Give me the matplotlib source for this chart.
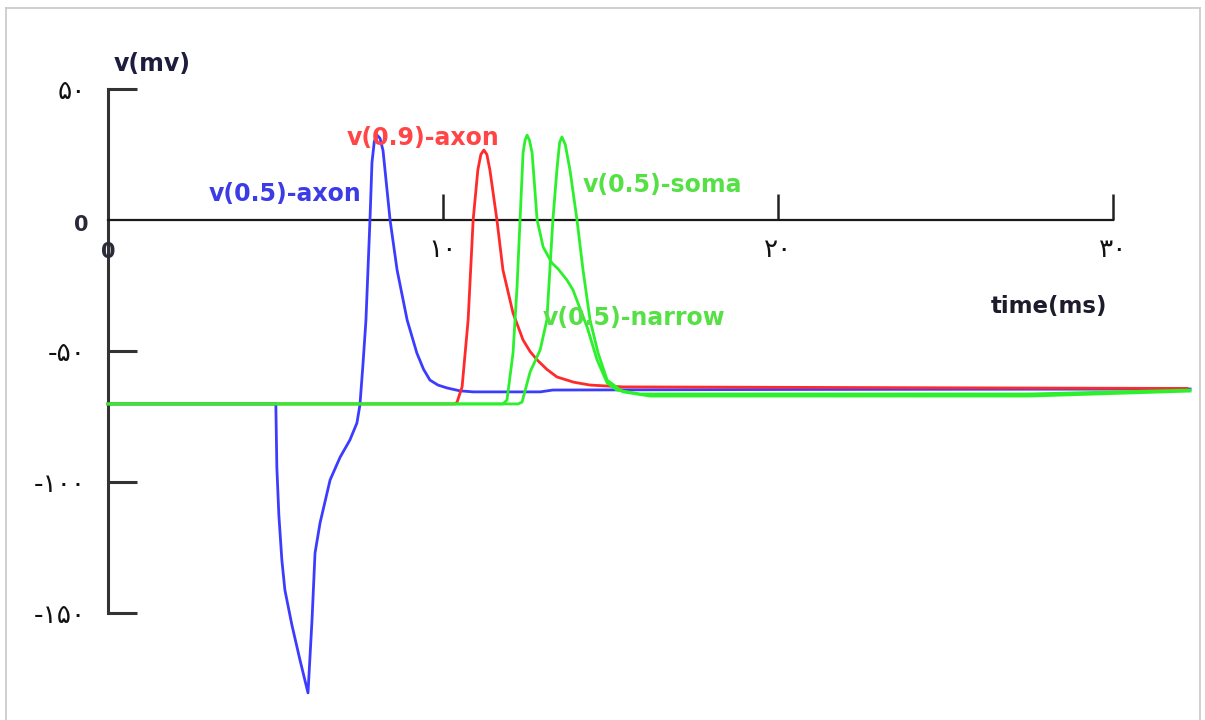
import matplotlib
matplotlib.use("Agg")
import matplotlib.pyplot as plt
from matplotlib.lines import Line2D

# Membrane potential traces (time in ms, voltage in mV)
axon05_t = [0.0, 5.01, 5.04, 5.10, 5.19, 5.28, 5.49, 5.73, 5.97, 6.09, 6.18, 6.33,
            6.63, 6.93, 7.22, 7.43, 7.52, 7.61, 7.70, 7.82, 7.88, 7.95, 8.03, 8.12,
            8.21, 8.42, 8.63, 8.93, 9.22, 9.42, 9.61, 9.85, 10.12, 10.50, 10.90,
            12.90, 13.28, 19.76, 32.3]
axon05_v = [-70.2, -70.2, -94.3, -112.6, -129.8, -141.2, -154.6, -167.9, -180.5, -152.7,
            -127.1, -115.6, -99.2, -90.5, -84.0, -77.5, -70.6, -55.3, -38.2, 0.0, 22.0,
            30.0, 32.4, 31.2, 26.5, 0.0, -19.1, -38.2, -50.8, -57.0, -61.1, -63.0,
            -64.1, -65.2, -65.6, -65.6, -64.9, -64.7, -64.5]

axon09_t = [0.0, 10.36, 10.42, 10.57, 10.75, 10.90, 11.04, 11.13, 11.22, 11.31, 11.40,
            11.61, 11.79, 12.09, 12.39, 12.60, 12.81, 13.10, 13.40, 13.90, 14.39, 15.37,
            32.21]
axon09_v = [-70.2, -70.2, -69.5, -63.7, -38.2, 0.0, 19.1, 25.0, 26.7, 25.0, 19.1,
            0.0, -19.1, -35.5, -45.8, -50.2, -53.4, -57.0, -59.9, -61.9, -63.0, -63.7,
            -64.3]

soma_t = [0.0, 11.79, 11.91, 12.09, 12.21, 12.30, 12.39, 12.45, 12.51, 12.58, 12.66,
          12.81, 12.99, 13.25, 13.43, 13.70, 13.88, 14.30, 14.60, 14.90, 15.19, 15.88,
          27.52, 32.3]
soma_v = [-70.2, -70.2, -68.7, -50.8, -25.6, 0.0, 25.6, 30.5, 32.4, 30.5, 25.6,
          0.0, -10.3, -16.4, -18.6, -22.9, -26.7, -40.8, -53.4, -62.2, -64.9, -66.4,
          -66.4, -64.9]

narrow_t = [0.0, 12.24, 12.36, 12.60, 12.90, 13.10, 13.28, 13.40, 13.48, 13.55, 13.65,
            13.79, 14.00, 14.18, 14.39, 14.63, 14.90, 15.37, 16.18, 27.52, 32.3]
narrow_v = [-70.2, -70.2, -69.5, -58.0, -49.6, -38.2, 0.0, 19.1, 29.5, 31.7, 28.8,
            19.1, 0.0, -19.1, -38.2, -50.8, -61.1, -65.6, -67.2, -67.2, -65.3]

x_ticks = [10, 20, 30]
x_tick_labels = ["۱۰", "۲۰", "۳۰"]
y_ticks = [50, -50, -100, -150]
y_tick_labels = ["۵۰", "-۵۰", "-۱۰۰", "-۱۵۰"]

BLUE = "#3c3cff"
RED = "#ff2a2a"
GREEN = "#2cf02c"

fig = plt.figure(figsize=(12.05, 7.2), dpi=100)
fig.patch.set_facecolor("white")
ax = fig.add_axes([0, 0, 1, 1])
ax.set_facecolor("none")
ax.set_xlim(-108 / 33.5, (1205 - 108) / 33.5)
ax.set_ylim((220 - 720) / 2.62, 220 / 2.62)

# Axes drawn through the origin
for side in ("top", "right"):
    ax.spines[side].set_visible(False)
ax.spines["left"].set_position(("data", 0))
ax.spines["bottom"].set_position(("data", 0))
ax.spines["left"].set_bounds(-150, 50)
ax.spines["bottom"].set_bounds(0, 30)
ax.spines["left"].set_linewidth(2.2)
ax.spines["left"].set_color("#333333")
ax.spines["bottom"].set_linewidth(1.6)
ax.spines["bottom"].set_color("#1a1a1a")

ax.set_xticks(x_ticks)
ax.set_xticklabels(x_tick_labels)
ax.set_yticks(y_ticks)
ax.set_yticklabels(y_tick_labels)
ax.tick_params(axis="x", direction="in", length=19, width=1.8, color="#222222",
               pad=12, labelsize=19, labelcolor="#111111")
ax.tick_params(axis="y", direction="in", length=21, width=2.2, color="#333333",
               pad=16, labelsize=19, labelcolor="#111111")
for lab in ax.get_xticklabels() + ax.get_yticklabels():
    lab.set_family(["DejaVu Sans"])

# Traces
ax.plot(axon05_t, axon05_v, color=BLUE, lw=2.0, zorder=3)
ax.plot(axon09_t, axon09_v, color=RED, lw=2.0, zorder=4)
ax.plot(soma_t, soma_v, color=GREEN, lw=2.0, zorder=5)
ax.plot(narrow_t, narrow_v, color=GREEN, lw=2.0, zorder=5)

# Trace labels
lab_kw = dict(fontsize=17, fontweight="bold", ha="center", va="center",
              family="DejaVu Sans", zorder=6)
ax.text(5.28, 9.9, "v(0.5)-axon", color="#3c3ce6", **lab_kw)
ax.text(9.40, 31.3, "v(0.9)-axon", color="#ff4545", **lab_kw)
ax.text(16.54, 13.4, "v(0.5)-soma", color="#55e045", **lab_kw)
ax.text(15.70, -37.4, "v(0.5)-narrow", color="#55e045", **lab_kw)

# Axis titles and origin labels
ax.text(1.31, 59.5, "v(mv)", fontsize=17, fontweight="bold", color="#1c1c3c",
        ha="center", va="center", family="DejaVu Sans")
ax.text(28.09, -33.2, "time(ms)", fontsize=16.5, fontweight="bold", color="#1c1c2c",
        ha="center", va="center", family="DejaVu Sans")
ax.text(-0.81, -1.9, "0", fontsize=15, fontweight="bold", color="#2a2a3a",
        ha="center", va="center", family="DejaVu Sans")
ax.text(0.0, -12.2, "0", fontsize=15, fontweight="bold", color="#2a2a3a",
        ha="center", va="center", family="DejaVu Sans")

# Thin frame around the figure
W, H = 1205.0, 720.0
frame_kw = dict(color="#c8c8c8", lw=1.2, transform=fig.transFigure)
fig.add_artist(Line2D([6 / W, 1200 / W], [1 - 8 / H, 1 - 8 / H], **frame_kw))
fig.add_artist(Line2D([6 / W, 6 / W], [0, 1 - 8 / H], **frame_kw))
fig.add_artist(Line2D([1200 / W, 1200 / W], [0, 1 - 8 / H], **frame_kw))

fig.savefig("out.png", dpi=100, facecolor="white")
